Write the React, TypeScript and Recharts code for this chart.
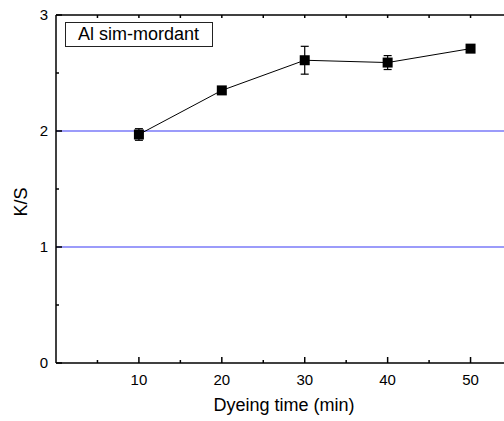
import { LineChart, Line, XAxis, YAxis, CartesianGrid, ErrorBar, Legend } from "recharts";

const times = [10, 20, 30, 40, 50];
const ksValues = [1.97, 2.35, 2.61, 2.59, 2.71];
const ksErrors = [0.05, 0.03, 0.12, 0.06, 0.02];

// major ticks get a label, the others are minor
const xTicks = [5, 10, 15, 20, 25, 30, 35, 40, 45, 50, 55];
const xMajor = [10, 20, 30, 40, 50];
const yTicks = [0, 0.5, 1, 1.5, 2, 2.5, 3];
const yMajor = [0, 1, 2, 3];
const gridYValues = [1, 2];

const seriesName = "Al sim-mordant";

const data = times.map((t, i) => ({ time: t, ks: ksValues[i], err: ksErrors[i] }));

const FONT = "'Liberation Sans', Arial, sans-serif";
const axisStroke = { stroke: "#000", strokeWidth: 1.5 };

// Origin-style ticks point into the plot, so draw them by hand
const BottomTick = (props: any) => {
  const { x, y, payload } = props;
  const major = xMajor.includes(payload.value);
  return (
    <g>
      <line x1={x} y1={y} x2={x} y2={y - (major ? 6 : 3)} stroke="#000" strokeWidth={1.5} />
      {major && (
        <text x={x} y={y + 22} textAnchor="middle" fill="#000" fontSize={15} fontFamily={FONT}>
          {payload.value}
        </text>
      )}
    </g>
  );
};

const TopTick = (props: any) => {
  const { x, y } = props;
  return <line x1={x} y1={y} x2={x} y2={y + 3} stroke="#000" strokeWidth={1.5} />;
};

const LeftTick = (props: any) => {
  const { x, y, payload } = props;
  const major = yMajor.includes(payload.value);
  return (
    <g>
      <line x1={x} y1={y} x2={x + (major ? 6 : 3)} y2={y} stroke="#000" strokeWidth={1.5} />
      {major && (
        <text x={x - 8} y={y + 5} textAnchor="end" fill="#000" fontSize={15} fontFamily={FONT}>
          {payload.value}
        </text>
      )}
    </g>
  );
};

const SquareDot = (props: any) => {
  const { cx, cy, index } = props;
  if (cx == null || cy == null) return null;
  return <rect key={index} x={cx - 5} y={cy - 5} width={10} height={10} fill="#000" />;
};

const LegendBox = ({ payload }: any) => (
  <div
    style={{
      boxSizing: "border-box",
      width: 148,
      height: 25,
      border: "1px solid #222",
      paddingLeft: 12,
      fontFamily: FONT,
      fontSize: 18,
      lineHeight: "23px",
      color: "#000",
      background: "#fff",
      whiteSpace: "nowrap",
    }}
  >
    {payload && payload.length ? payload[0].value : seriesName}
  </div>
);

export default function App() {
  return (
    <div
      style={{
        position: "absolute",
        left: 0,
        top: 0,
        width: 504,
        height: 421,
        overflow: "hidden",
        background: "#fff",
        fontFamily: FONT,
      }}
    >
      <LineChart width={520} height={421} data={data} margin={{ top: 14, right: 8, bottom: 0, left: 0 }}>
        <CartesianGrid
          yAxisId={0}
          xAxisId={0}
          vertical={false}
          horizontalValues={gridYValues}
          stroke="#3838f5"
          strokeWidth={1.2}
        />
        <XAxis
          xAxisId={0}
          type="number"
          dataKey="time"
          domain={[0, 55]}
          ticks={xTicks}
          interval={0}
          height={58}
          tickSize={0}
          tickMargin={0}
          axisLine={axisStroke}
          tickLine={false}
          tick={BottomTick}
          label={{ value: "Dyeing time (min)", position: "insideBottom", offset: 10, fill: "#000", fontSize: 18, fontFamily: FONT }}
        />
        <XAxis
          xAxisId={1}
          orientation="top"
          type="number"
          dataKey="time"
          domain={[0, 55]}
          ticks={xTicks}
          interval={0}
          height={1}
          tickSize={0}
          tickMargin={0}
          axisLine={axisStroke}
          tickLine={false}
          tick={TopTick}
        />
        <YAxis
          yAxisId={0}
          type="number"
          domain={[0, 3]}
          ticks={yTicks}
          interval={0}
          width={56}
          tickSize={0}
          tickMargin={0}
          axisLine={axisStroke}
          tickLine={false}
          tick={LeftTick}
          label={{ value: "K/S", angle: -90, position: "center", dx: -7, dy: 13, fill: "#000", fontSize: 18, fontFamily: FONT }}
        />
        <Legend
          layout="horizontal"
          verticalAlign="middle"
          align="center"
          content={LegendBox}
          wrapperStyle={{ left: 65, top: 22, width: "auto", height: "auto" }}
        />
        <Line
          xAxisId={0}
          yAxisId={0}
          name={seriesName}
          type="linear"
          dataKey="ks"
          stroke="#000"
          strokeWidth={1}
          dot={SquareDot}
          activeDot={false}
          isAnimationActive={false}
        >
          <ErrorBar dataKey="err" width={4} stroke="#000" strokeWidth={1.2} direction="y" />
        </Line>
      </LineChart>
    </div>
  );
}
